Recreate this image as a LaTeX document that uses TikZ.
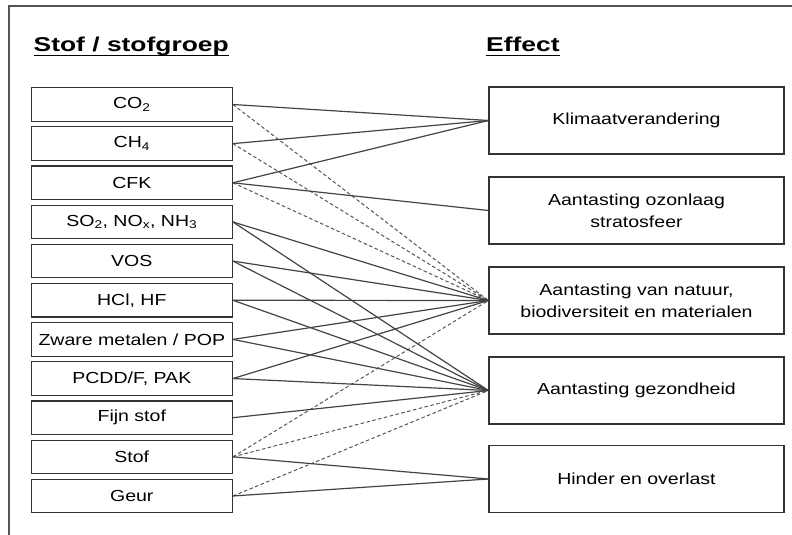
\documentclass[tikz,border=0pt]{standalone}
\usepackage{fontspec}
\setmainfont{Liberation Sans}
\newfontfamily\bodyfont[FakeStretch=1.22]{Liberation Sans}
\newfontfamily\headfont[FakeStretch=1.32]{Liberation Sans}
\definecolor{boxc}{HTML}{333333}
\definecolor{linec}{HTML}{444444}
\definecolor{dashc}{HTML}{555555}
\definecolor{framec}{HTML}{555555}
\begin{document}
\begin{tikzpicture}[x=1bp,y=-1bp,
  lbox/.style={draw=boxc, line width=1.2bp, minimum width=201bp, minimum height=33.5bp, inner sep=0pt,
    font=\bodyfont\fontsize{16bp}{22bp}\selectfont, text=black},
  rbox/.style={draw=boxc, line width=1.2bp, minimum width=295bp, minimum height=67bp, inner sep=0pt,
    align=center, font=\bodyfont\fontsize{16bp}{22bp}\selectfont, text=black},
  head/.style={inner sep=0pt, anchor=base west, font=\headfont\bfseries\fontsize{20bp}{24bp}\selectfont},
  uline/.style={line width=1.6bp, black},
  sl/.style={draw=linec, line width=1.2bp},
  dl/.style={draw=dashc, line width=1bp, dash pattern=on 3.5bp off 2.5bp}]
\useasboundingbox (0,0) rectangle (792,535);
\fill[white] (0,0) rectangle (792,535);
\draw[framec, line width=1.3bp] (9,535) -- (9,6) -- (792,6);
% headers
\node[head] (h1) at (33.5,51.3) {Stof / stofgroep};
\node[head] (h2) at (486,51.3) {Effect};
\draw[uline] ([yshift=-4.4bp]h1.base west) -- ([yshift=-4.4bp]h1.base east);
\draw[uline] ([yshift=-4.4bp]h2.base west) -- ([yshift=-4.4bp]h2.base east);
% left boxes
\node[lbox] (co2) at (131.8,104.5) {CO\textsubscript{2}};
\node[lbox] (ch4) at (131.8,143.65) {CH\textsubscript{4}};
\node[lbox] (cfk) at (131.8,182.8) {CFK};
\node[lbox] (so2) at (131.8,221.95) {SO\textsubscript{2}, NO\textsubscript{x}, NH\textsubscript{3}};
\node[lbox] (vos) at (131.8,261.1) {VOS};
\node[lbox] (hcl) at (131.8,300.25) {HCl, HF};
\node[lbox] (zw) at (131.8,339.4) {Zware metalen / POP};
\node[lbox] (pc) at (131.8,378.55) {PCDD/F, PAK};
\node[lbox] (fijn) at (131.8,417.7) {Fijn stof};
\node[lbox] (stof) at (131.8,456.85) {Stof};
\node[lbox] (geur) at (131.8,496) {Geur};
% right boxes
\node[rbox] (klim) at (636.5,120.5) {Klimaatverandering};
\node[rbox] (ozon) at (636.5,210.5) {Aantasting ozonlaag\\stratosfeer};
\node[rbox] (nat) at (636.5,300.5) {Aantasting van natuur,\\biodiversiteit en materialen};
\node[rbox] (gez) at (636.5,390.5) {Aantasting gezondheid};
\node[rbox] (hind) at (636.5,479) {Hinder en overlast};
% dashed connectors
\draw[dl] (co2.east) -- (nat.west);
\draw[dl] (ch4.east) -- (nat.west);
\draw[dl] (cfk.east) -- (nat.west);
\draw[dl] (stof.east) -- (nat.west);
\draw[dl] (stof.east) -- (gez.west);
\draw[dl] (geur.east) -- (gez.west);
% solid connectors
\draw[sl] (co2.east) -- (klim.west);
\draw[sl] (ch4.east) -- (klim.west);
\draw[sl] (cfk.east) -- (klim.west);
\draw[sl] (cfk.east) -- (ozon.west);
\draw[sl] (so2.east) -- (nat.west);
\draw[sl] (so2.east) -- (gez.west);
\draw[sl] (vos.east) -- (nat.west);
\draw[sl] (vos.east) -- (gez.west);
\draw[sl] (hcl.east) -- (nat.west);
\draw[sl] (hcl.east) -- (gez.west);
\draw[sl] (zw.east) -- (nat.west);
\draw[sl] (zw.east) -- (gez.west);
\draw[sl] (pc.east) -- (nat.west);
\draw[sl] (pc.east) -- (gez.west);
\draw[sl] (fijn.east) -- (gez.west);
\draw[sl] (stof.east) -- (hind.west);
\draw[sl] (geur.east) -- (hind.west);
\end{tikzpicture}
\end{document}
